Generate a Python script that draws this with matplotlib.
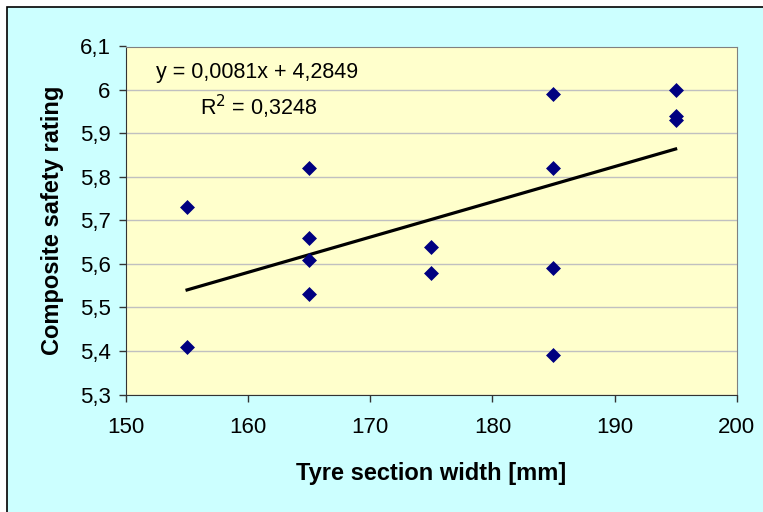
import matplotlib
matplotlib.use("Agg")
from matplotlib import pyplot as plt
from matplotlib.patches import Rectangle
from matplotlib.ticker import FuncFormatter, MultipleLocator
import numpy as np

plt.rcParams['font.family'] = ['Liberation Sans', 'DejaVu Sans']

# tyre width [mm] vs composite safety rating
width_mm = [155, 155,
            165, 165, 165, 165,
            175, 175,
            185, 185, 185, 185,
            195, 195, 195]
rating = [5.73, 5.41,
          5.82, 5.66, 5.61, 5.53,
          5.64, 5.58,
          5.99, 5.82, 5.59, 5.39,
          6.00, 5.94, 5.93]

# linear trend as reported on the chart
slope = 0.0081
intercept = 4.2849
r_squared = 0.3248


def comma(v, pos=None):
    return f"{v:g}".replace('.', ',')


fig = plt.figure(figsize=(7.63, 5.12), dpi=100)
fig.patch.set_facecolor('white')
# chart area background with its frame
fig.patches.append(Rectangle((7 / 763, -0.05), 1.1, 1 - 7 / 512 + 0.05,
                             transform=fig.transFigure, facecolor='#CCFFFF',
                             edgecolor='black', linewidth=1.2, zorder=-1))

ax = fig.add_axes([126 / 763, 1 - 394.5 / 512, (736.7 - 126) / 763, (394.5 - 46.5) / 512])
ax.set_zorder(2)
ax.set_facecolor('#FFFFCC')

ax.scatter(width_mm, rating, marker='D', s=58, color='#000080', linewidths=0, zorder=3)

xs = np.array([min(width_mm), max(width_mm)])
ax.plot(xs, slope * xs + intercept, color='black', linewidth=2.3, zorder=2)

ax.set_xlim(150, 200)
ax.set_ylim(5.3, 6.1)
ax.xaxis.set_major_locator(MultipleLocator(10))
ax.yaxis.set_major_locator(MultipleLocator(0.1))
ax.yaxis.set_major_formatter(FuncFormatter(comma))
ax.grid(axis='y', color='#C0C0C0', linewidth=1.0)
ax.set_axisbelow(True)

for side in ('top', 'right'):
    ax.spines[side].set_color('#808080')
for side in ('left', 'bottom'):
    ax.spines[side].set_color('#333333')
ax.tick_params(direction='out', length=5, width=1, color='#333333', labelsize=16)
ax.tick_params(axis='x', pad=11)
ax.tick_params(axis='y', pad=6)

ax.set_xlabel('Tyre section width [mm]', fontsize=17, fontweight='bold', va='center')
ax.xaxis.set_label_coords(0.5, -0.228)
ax.set_ylabel('Composite safety rating', fontsize=17, fontweight='bold', va='center')
ax.yaxis.set_label_coords(-0.121, 0.5)

ax.text(0.049, 0.924, f"y = {comma(slope)}x + {comma(intercept)}", transform=ax.transAxes,
        fontsize=15.5, va='center', ha='left')
ax.text(0.217, 0.826, f"R$^2$ = {comma(r_squared)}", transform=ax.transAxes,
        fontsize=15.5, va='center', ha='center')

fig.savefig('out.png', dpi=100)
